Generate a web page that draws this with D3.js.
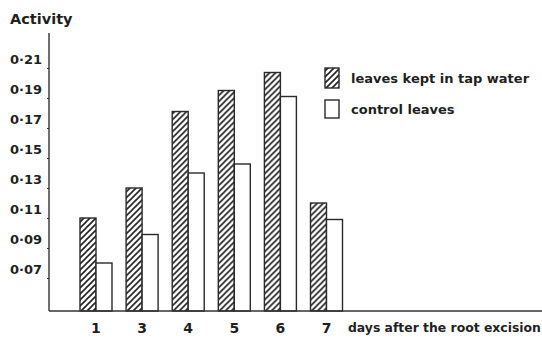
<!DOCTYPE html>
<html>
<head>
<meta charset="utf-8">
<script src="https://cdn.jsdelivr.net/npm/d3@7"></script>
<style>
  html, body { margin: 0; padding: 0; background: #fff; }
  svg { display: block; }
  text { font-family: "DejaVu Sans", sans-serif; font-weight: 700; fill: #1f1f1f; }
</style>
</head>
<body>
<script>
// Days after root excision (day 2 was not measured)
const days = ["1", "3", "4", "5", "6", "7"];
// Activity of leaves kept in tap water
const tapWater = [0.110, 0.130, 0.181, 0.195, 0.207, 0.120];
// Activity of control leaves
const control = [0.080, 0.099, 0.140, 0.146, 0.191, 0.109];
// Y-axis tick values and their printed labels
const yTicks = [0.07, 0.09, 0.11, 0.13, 0.15, 0.17, 0.19, 0.21];
const yTickLabels = ["0·07", "0·09", "0·11", "0·13", "0·15", "0·17", "0·19", "0·21"];
const seriesNames = ["leaves kept in tap water", "control leaves"];

const W = 542, H = 338;
const axisX = 49, axisTop = 33, baseY = 311, baseEnd = 542;

const svg = d3.select("body").append("svg")
  .attr("width", W).attr("height", H);

// Diagonal hatching for the tap-water series
const defs = svg.append("defs");
const pat = defs.append("pattern")
  .attr("id", "hatch")
  .attr("patternUnits", "userSpaceOnUse")
  .attr("width", 6).attr("height", 6);
pat.append("rect").attr("width", 6).attr("height", 6).attr("fill", "#fff");
pat.append("path")
  .attr("d", "M-1,1 L1,-1 M0,6 L6,0 M5,7 L7,5")
  .attr("stroke", "#222").attr("stroke-width", 1.6);

const y = d3.scaleLinear().domain([0.07, 0.21]).range([278, 68]);

const x = d3.scaleBand().domain(days).range([80, 342.5])
  .paddingInner(0.306).paddingOuter(0);
const xs = d3.scaleBand().domain(["tap", "control"])
  .range([0, x.bandwidth()]).padding(0);

// Bars
const rows = days.map((d, i) => ({ day: d, tap: tapWater[i], control: control[i] }));
const groups = svg.append("g").selectAll("g").data(rows).join("g")
  .attr("transform", d => `translate(${x(d.day)},0)`);
groups.selectAll("rect")
  .data(d => [{ k: "tap", v: d.tap }, { k: "control", v: d.control }])
  .join("rect")
  .attr("x", d => xs(d.k))
  .attr("y", d => y(d.v))
  .attr("width", xs.bandwidth())
  .attr("height", d => baseY - y(d.v))
  .attr("fill", d => d.k === "tap" ? "url(#hatch)" : "#fff")
  .attr("stroke", "#2a2a2a")
  .attr("stroke-width", 1.4);

// Y axis
const yAxis = d3.axisLeft(y).tickValues(yTicks).tickSize(2)
  .tickFormat((d, i) => yTickLabels[i]);
const gy = svg.append("g").attr("transform", `translate(${axisX},0)`).call(yAxis);
gy.select(".domain").remove();
gy.selectAll(".tick line").attr("stroke", "#333").attr("stroke-width", 1.2);
gy.selectAll(".tick text")
  .attr("x", -7).attr("dy", "-0.35em")
  .style("font-size", "13px").style("font-weight", "700")
  .style("font-family", "'DejaVu Sans', sans-serif").attr("fill", "#1f1f1f");
svg.append("line")
  .attr("x1", axisX).attr("x2", axisX).attr("y1", axisTop).attr("y2", baseY)
  .attr("stroke", "#333").attr("stroke-width", 1.4);

// Baseline and x labels
svg.append("line")
  .attr("x1", axisX).attr("x2", baseEnd).attr("y1", baseY).attr("y2", baseY)
  .attr("stroke", "#333").attr("stroke-width", 1.4);
const xAxis = d3.axisBottom(x).tickSize(0).tickPadding(0);
const gx = svg.append("g").attr("transform", `translate(0,${baseY})`).call(xAxis);
gx.select(".domain").remove();
gx.selectAll(".tick text")
  .attr("y", 17).attr("dy", "0.35em")
  .style("font-size", "14px").style("font-weight", "700")
  .style("font-family", "'DejaVu Sans', sans-serif").attr("fill", "#1f1f1f");

svg.append("text").attr("x", 348).attr("y", 328).attr("dy", "0.35em")
  .style("font-size", "12.4px")
  .text("days after the root excision");

// Y title
svg.append("text").attr("x", 10).attr("y", 19).attr("dy", "0.35em")
  .style("font-size", "14.5px")
  .text("Activity");

// Legend
const legend = svg.append("g");
const legRows = [
  { name: seriesNames[0], fill: "url(#hatch)", y: 68, h: 20 },
  { name: seriesNames[1], fill: "#fff", y: 100, h: 18 }
];
legRows.forEach(r => {
  legend.append("rect").attr("x", 325).attr("y", r.y).attr("width", 14).attr("height", r.h)
    .attr("fill", r.fill).attr("stroke", "#2a2a2a").attr("stroke-width", 1.4);
  legend.append("text").attr("x", 351).attr("y", r.y + r.h / 2).attr("dy", "0.35em")
    .style("font-size", "13px")
    .text(r.name);
});
</script>
</body>
</html>
